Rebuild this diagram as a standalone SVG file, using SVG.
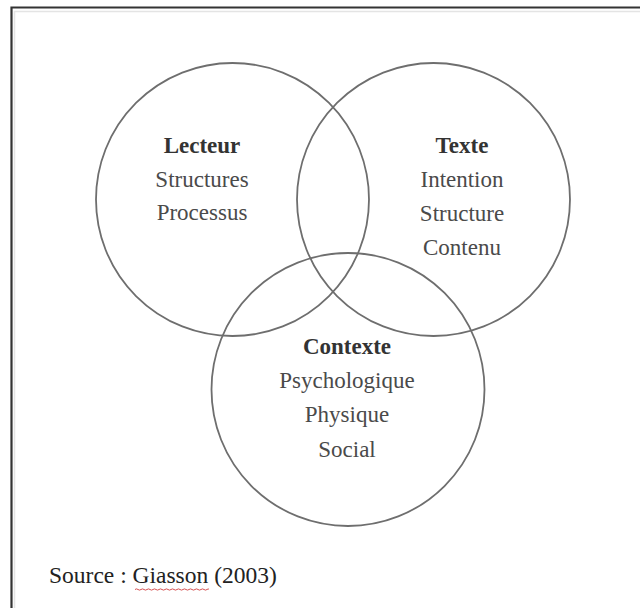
<svg xmlns="http://www.w3.org/2000/svg" width="640" height="608" viewBox="0 0 640 608">
<style>
.c{fill:none;stroke:#6e6e6e;stroke-width:1.8}
.t{font-family:"Liberation Serif","Times New Roman",serif;font-size:23px;fill:#4a4a4a;text-anchor:middle}
.b{font-weight:bold;fill:#333}
.s{font-family:"Liberation Serif","Times New Roman",serif;font-size:23.5px;fill:#222}
</style>
<rect width="640" height="608" fill="#fff"/>
<g id="frame">
<path d="M11.5 608V7.5H640" fill="none" stroke="#333" stroke-width="2.2"/>
<path d="M14.5 608V11.5H640" fill="none" stroke="#e4e4e4" stroke-width="1.5"/>
</g>
<g id="connectors"></g>
<g id="lecteur">
<circle class="c" cx="232.5" cy="199.5" r="136.5"/>
<text class="t b" x="202" y="153">Lecteur</text>
<text class="t" x="202" y="187">Structures</text>
<text class="t" x="202" y="220">Processus</text>
</g>
<g id="texte">
<circle class="c" cx="433.5" cy="199.5" r="136.5"/>
<text class="t b" x="462" y="153">Texte</text>
<text class="t" x="462" y="187">Intention</text>
<text class="t" x="462" y="221">Structure</text>
<text class="t" x="462" y="255">Contenu</text>
</g>
<g id="contexte">
<circle class="c" cx="348" cy="389.5" r="136.5"/>
<text class="t b" x="347" y="354">Contexte</text>
<text class="t" x="347" y="388">Psychologique</text>
<text class="t" x="347" y="422">Physique</text>
<text class="t" x="347" y="457">Social</text>
</g>
<g id="source">
<text class="s" x="49" y="583">Source : Giasson (2003)</text>
<path d="M135 589.5q1.5-1.2 3 0t3 0t3 0t3 0t3 0t3 0t3 0t3 0t3 0t3 0t3 0t3 0t3 0t3 0t3 0t3 0t3 0t3 0t3 0t3 0t3 0t3 0t3 0t3 0t2 0" fill="none" stroke="#d04040" stroke-width="0.9"/>
</g>
</svg>
